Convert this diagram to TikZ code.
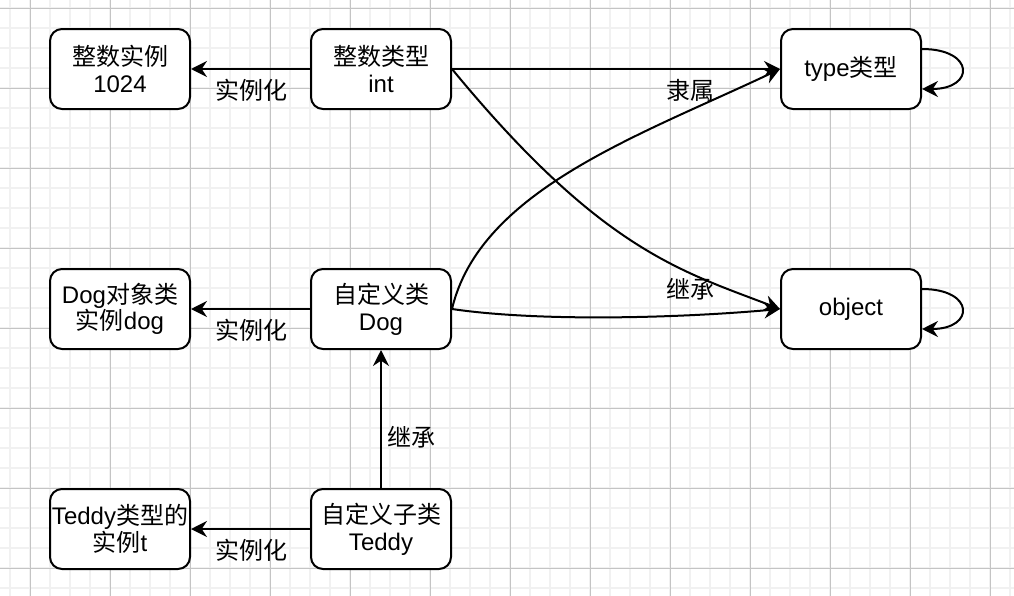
\documentclass[tikz,border=0pt]{standalone}
\usepackage{fontspec}
\setmainfont{Liberation Sans}
\newfontfamily\cjk{Noto Sans CJK SC}
\usetikzlibrary{arrows.meta}
\definecolor{gridminor}{HTML}{F1F1F1}
\definecolor{gridmajor}{HTML}{C4C4C4}
\tikzset{
  box/.style={draw, fill=white, line width=1.5pt, rounded corners=9pt,
    minimum width=105pt, minimum height=60pt, align=center,
    font=\fontsize{18}{20}\selectfont, inner sep=0pt},
  arr/.style={line width=1.5pt, -{Stealth[length=12pt,width=12pt,inset=4pt]}},
  lbl/.style={font=\fontsize{18}{20}\selectfont, inner sep=0pt},
  minorline/.style={draw=gridminor, line width=1.5pt},
  majorline/.style={draw=gridmajor, line width=0.75pt},
}
\begin{document}
\begin{tikzpicture}[x=0.75pt,y=-0.75pt]
\useasboundingbox (0,0) rectangle (1014,596);
\fill[white] (0,0) rectangle (1014,596);
% grid
\foreach \gx in {10,30,...,1010} \draw[minorline] (\gx,0) -- (\gx,596);
\foreach \gy in {8,28,...,588} \draw[minorline] (0,\gy) -- (1014,\gy);
\foreach \gx in {30,110,...,990} \draw[majorline] (\gx,0) -- (\gx,596);
\foreach \gy in {8,88,...,568} \draw[majorline] (0,\gy) -- (1014,\gy);
% nodes
\node[box] (n1024) at (120,69) {{\cjk 整数实例}\\1024};
\node[box] (int) at (381,69) {{\cjk 整数类型}\\int};
\node[box] (type) at (851,69) {type{\cjk 类型}};
\node[box] (object) at (851,309) {object};
\node[box] (dogobj) at (120,309) {Dog{\cjk 对象类}\\{\cjk 实例}dog};
\node[box] (dog) at (381,309) {{\cjk 自定义类}\\Dog};
\node[box] (teddyobj) at (120,529) {Teddy{\cjk 类型的}\\{\cjk 实例}t};
\node[box] (teddy) at (381,529) {{\cjk 自定义子类}\\Teddy};
% edges
\draw[arr] (int.west) -- (n1024.east);
\draw[arr] (dog.west) -- (dogobj.east);
\draw[arr] (teddy.west) -- (teddyobj.east);
\draw[arr] (teddy.north) -- (dog.south);
\draw[arr] (int.east) -- (type.west);
\draw[arr] (int.east) .. controls (601,250) and (681,271) .. (object.west);
\draw[arr] (dog.east) .. controls (480,190) and (641,135) .. (type.west);
\draw[arr] (dog.east) .. controls (540,322) and (680,318) .. (object.west);
\draw[arr] ([yshift=15pt]type.east) .. controls +(53,0) and +(53,0) .. ([yshift=-15pt]type.east);
\draw[arr] ([yshift=15pt]object.east) .. controls +(53,0) and +(53,0) .. ([yshift=-15pt]object.east);
% labels
\node[lbl] (l1) at (251,90) {\cjk 实例化};
\node[lbl] (l2) at (251,330) {\cjk 实例化};
\node[lbl] (l3) at (251,550) {\cjk 实例化};
\node[lbl] (l4) at (411,437) {\cjk 继承};
\node[lbl] (l5) at (690,90) {\cjk 隶属};
\node[lbl] (l6) at (690,289) {\cjk 继承};
\end{tikzpicture}
\end{document}
